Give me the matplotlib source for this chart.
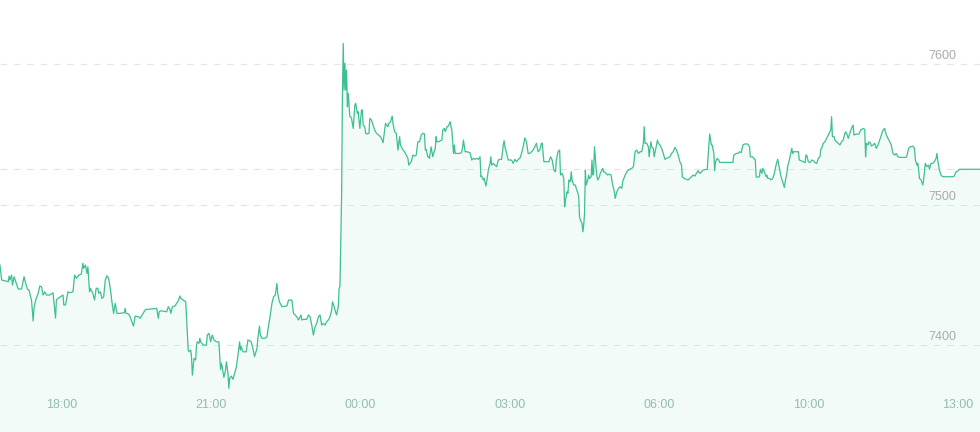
import matplotlib
matplotlib.use("Agg")
import matplotlib.pyplot as plt
import matplotlib.transforms as mtransforms

# minutes since 16:45 and the traded price at each point
minutes = [
    0, 2, 10, 11, 12, 14, 15, 17, 19, 22, 26, 29, 31, 33, 35, 38, 40, 41, 43, 46,
    48, 50, 52, 54, 56, 60, 64, 65, 67, 68, 70, 73, 76, 77, 79, 82, 84, 88, 90, 92,
    95, 98, 100, 101, 103, 105, 106, 108, 109, 112, 114, 116, 118, 119, 121, 123, 125, 127, 129, 131,
    133, 135, 137, 139, 141, 145, 150, 151, 152, 155, 157, 159, 161, 163, 167,
    169, 175, 177, 181, 189, 191, 192, 194, 201, 203, 205, 206, 208, 211, 213, 215, 217, 218, 220, 224,
    227, 228, 230, 231, 232, 233, 234, 236, 237, 238, 240, 241, 242, 245, 249, 250, 252, 253, 254, 256,
    258, 261, 264, 265, 266, 267, 268, 270, 272, 273, 275, 276, 277, 279, 281, 283, 285, 287, 289, 290,
    291, 293, 297, 299, 303, 305, 307, 310, 311, 313, 314, 316, 320, 322, 324, 326, 328, 330, 332, 334,
    335, 337,
    338, 340, 346, 348, 352, 354, 358, 360, 362, 363, 364, 366, 370, 372, 374, 376, 378, 380, 382, 384,
    386, 388, 390, 392, 394, 396, 398, 400, 401, 403, 404, 406, 408, 409, 410, 412, 413, 414, 415, 416,
    417, 418, 419, 420, 422, 423, 424, 426, 428, 429, 431, 432, 434, 436, 437, 438, 440, 441, 443, 445,
    446, 448, 450, 452, 454, 458, 460, 462, 464, 465, 468, 469, 471, 473, 474, 476, 478, 480, 482, 483,
    486, 488, 490, 492, 493, 496, 498, 500, 502, 504, 506,
    508, 510, 512, 513, 514, 516, 517, 518, 520, 522, 523, 525, 526, 527, 529, 531, 533, 534, 536, 537,
    539, 540, 542, 543, 544, 545, 547, 548, 549, 551, 555, 557, 558, 559, 561, 563, 567, 569, 571, 573,
    575, 577, 579, 580, 581, 583, 584, 586, 587, 589, 591, 592, 593, 595, 597, 599, 601, 603, 605, 607,
    608, 609, 611, 613, 617, 619, 621, 623, 625, 627, 629, 631, 633, 635, 637, 639, 641, 643, 645, 647,
    649, 651, 653, 654, 656, 662, 664, 666, 668, 670, 671, 673, 675,
    676, 678, 680, 681, 682, 684, 685, 686, 688, 689, 690, 692, 694, 695, 697, 698, 699, 700, 702, 703,
    704, 705, 706, 707, 709, 710, 711, 713, 714, 715, 716, 717, 719, 720, 721, 723, 724, 727, 728, 729,
    731, 733, 735, 737, 739, 741, 742, 744, 746, 748, 750, 751, 752, 754, 756, 758, 762, 764, 766, 768,
    770, 772, 774, 776, 777, 778, 780, 782, 783, 785, 786, 788, 789, 791, 793, 794, 796, 798, 800, 802,
    804, 808, 810, 812, 814, 816, 818, 820, 822, 823, 825, 828, 830, 832, 834, 836, 838, 840, 842, 844,
    846, 848, 853, 854, 855, 856, 858, 859, 861, 862, 863, 865, 867, 868, 872, 880, 884, 885, 888, 890,
    892, 894, 896, 898, 902, 904, 905, 908, 909, 911, 912, 913, 916, 917, 919, 920, 922, 924, 925, 926,
    928, 930, 932, 934, 936, 938, 940, 942, 944, 946, 947, 949, 950, 952, 955, 956, 957, 961, 963, 964,
    966, 969, 971, 972, 973, 975, 977, 979, 981, 983, 985, 987, 989, 990, 991, 993, 995, 997, 999, 1000,
    1002, 1003, 1004, 1006, 1007, 1009, 1011, 1013,
    1015, 1017, 1019, 1020, 1022, 1023, 1025, 1027, 1029, 1030, 1033, 1036, 1038, 1041, 1043, 1044, 1045, 1047, 1048, 1050,
    1051, 1053, 1055, 1057, 1059, 1061, 1063, 1065, 1067, 1069, 1071, 1073, 1075, 1077, 1079, 1081, 1083, 1085, 1093, 1094,
    1095, 1096, 1098, 1101, 1103, 1104, 1106, 1107, 1108, 1109, 1111, 1113, 1114, 1115, 1116, 1118, 1120, 1121, 1123, 1125,
    1127, 1129, 1130, 1131, 1132, 1133, 1135, 1137, 1145, 1149, 1151, 1153, 1155, 1157, 1182,
]

prices = [
    7456.9, 7446.3, 7445.1, 7449.1, 7446.3, 7449.8, 7442.7, 7448.6, 7445.1, 7439.9, 7439.9, 7448.6, 7443.9, 7439.9, 7439.1, 7432.0, 7417.1, 7426.1, 7432.0, 7436.8,
    7442.0, 7441.5, 7435.6, 7437.9, 7435.6, 7435.6, 7437.2, 7430.8, 7419.2, 7432.0, 7433.2, 7434.4, 7435.6, 7428.5, 7428.5, 7437.9, 7437.2, 7437.9, 7449.8, 7447.5,
    7449.8, 7450.5, 7458.2, 7454.6, 7456.9, 7451.0, 7455.7, 7437.9, 7440.4, 7436.8, 7432.0, 7440.4, 7440.4, 7436.8, 7437.9, 7433.2, 7434.4, 7446.3, 7449.3, 7447.5,
    7440.4, 7430.8, 7422.6, 7429.7, 7422.6, 7422.6, 7423.0, 7426.1, 7422.6, 7422.1, 7420.1, 7416.6, 7413.5, 7420.6, 7420.1,
    7419.0, 7424.9, 7425.4, 7425.6, 7426.1, 7419.0, 7423.7, 7424.4, 7423.7, 7427.3, 7425.4, 7422.6, 7427.3, 7427.8, 7429.7, 7431.5, 7434.9, 7433.2, 7432.5, 7430.8,
    7396.4, 7395.2, 7396.4, 7391.7, 7378.6, 7384.6, 7390.5, 7389.3, 7400.0, 7402.3, 7401.2, 7404.8, 7402.3, 7400.0, 7400.0, 7407.1, 7408.3, 7405.9, 7402.3, 7407.1,
    7403.6, 7402.3, 7402.3, 7392.9, 7382.7, 7387.0, 7384.6, 7377.0, 7382.2, 7388.1, 7379.9, 7369.2, 7376.3, 7377.9, 7375.6, 7379.9, 7384.1, 7392.9, 7402.3, 7396.4,
    7398.8, 7395.2, 7395.2, 7403.6, 7402.3, 7397.7, 7391.7, 7397.7, 7404.8, 7413.5, 7407.1, 7404.8, 7404.8, 7405.9, 7414.2, 7421.4, 7429.7, 7434.4, 7435.6, 7443.9,
    7436.8, 7430.8,
    7429.7, 7427.3, 7427.8, 7432.0, 7432.0, 7422.6, 7420.1, 7417.8, 7420.1, 7421.4, 7417.8, 7418.3, 7418.3, 7421.4, 7420.1, 7414.2, 7407.1, 7413.0, 7415.4, 7420.1,
    7421.4, 7414.2, 7415.4, 7414.2, 7416.6, 7417.8, 7420.1, 7424.9, 7430.8, 7427.3, 7424.9, 7421.4, 7427.3, 7440.4, 7441.5, 7505.6, 7576.7, 7614.7, 7581.5, 7600.5,
    7581.5, 7595.7, 7569.6, 7579.1, 7562.5, 7562.5, 7561.3, 7554.2, 7570.8, 7572.0, 7564.9, 7566.0, 7554.2, 7567.3, 7567.3, 7556.6, 7555.4, 7550.7, 7550.2, 7550.7,
    7561.3, 7560.1, 7556.6, 7553.0, 7550.7, 7548.8, 7547.1, 7544.0, 7553.0, 7557.8, 7555.4, 7557.8, 7558.9, 7563.0, 7557.8, 7551.8, 7550.7, 7538.8, 7548.3, 7542.4,
    7538.8, 7537.6, 7535.2, 7532.9, 7528.1, 7530.5, 7535.2, 7534.5, 7535.2, 7544.7, 7544.7,
    7549.5, 7550.7, 7550.2, 7538.8, 7539.3, 7534.0, 7534.0, 7532.9, 7541.1, 7534.0, 7536.4, 7540.0, 7548.3, 7544.7, 7544.7, 7545.4, 7545.9, 7553.0, 7554.2, 7551.8,
    7555.4, 7555.4, 7557.3, 7558.9, 7555.4, 7553.0, 7536.4, 7542.4, 7536.4, 7536.4, 7536.4, 7537.6, 7541.1, 7545.9, 7537.6, 7537.6, 7536.9, 7531.7, 7532.9, 7532.2,
    7532.9, 7532.2, 7534.0, 7519.8, 7520.3, 7517.4, 7518.6, 7513.2, 7516.2, 7524.6, 7529.3, 7534.0, 7528.1, 7529.3, 7528.1, 7526.9, 7531.7, 7532.2, 7532.2, 7542.4,
    7545.4, 7541.1, 7536.4, 7531.7, 7531.7, 7529.3, 7532.2, 7530.5, 7532.2, 7532.9, 7536.4, 7541.1, 7547.5, 7544.7, 7536.4, 7536.4, 7537.6, 7538.8, 7541.1, 7543.6,
    7537.6, 7538.8, 7543.6, 7543.6, 7530.5, 7530.5, 7534.0, 7531.7, 7524.6, 7523.3, 7531.7, 7537.6, 7538.8,
    7521.0, 7522.2, 7518.6, 7498.4, 7503.2, 7509.1, 7508.0, 7517.5, 7516.2, 7523.3, 7517.5, 7513.9, 7513.9, 7511.5, 7508.0, 7505.6, 7491.3, 7489.0, 7486.6, 7480.6,
    7485.4, 7493.7, 7524.6, 7513.9, 7517.5, 7521.0, 7518.6, 7519.8, 7531.7, 7521.0, 7522.2, 7541.1, 7525.8, 7519.8, 7517.5, 7519.8, 7522.2, 7525.8, 7523.3, 7523.3,
    7522.2, 7521.0, 7521.7, 7521.0, 7513.9, 7509.1, 7504.4, 7509.1, 7511.5, 7512.7, 7511.5, 7516.2, 7517.9, 7521.0, 7523.3, 7524.6, 7525.8, 7526.9, 7537.6, 7538.8,
    7536.4, 7537.6, 7537.6, 7543.6, 7555.4, 7543.6, 7543.6, 7541.1, 7534.0, 7544.7, 7541.1, 7540.0, 7534.0, 7540.0, 7545.9, 7543.6, 7542.4, 7540.0, 7536.4, 7532.2,
    7532.9, 7534.0, 7536.4, 7537.6, 7540.7, 7538.8, 7535.2, 7530.5, 7528.1, 7519.8, 7518.6, 7517.9, 7517.5, 7518.6, 7519.8, 7521.0, 7520.3, 7522.2, 7524.1, 7522.2,
    7523.3, 7524.6, 7525.1, 7534.0, 7542.4, 7550.2, 7542.4, 7542.4, 7536.4, 7524.1, 7530.5, 7532.9, 7531.7, 7530.0, 7530.0, 7530.0, 7530.0, 7535.2, 7536.4, 7536.4,
    7537.6, 7536.9, 7542.4, 7543.1, 7543.1, 7541.1, 7534.0, 7534.0, 7532.9, 7531.7, 7519.8, 7519.4, 7519.8, 7525.1, 7522.2, 7525.8, 7523.3, 7519.8, 7521.0, 7518.6,
    7518.6, 7517.5, 7518.6, 7522.2, 7528.1, 7532.2, 7525.8, 7519.8, 7516.2, 7512.2, 7516.2, 7522.2, 7526.9, 7531.7, 7540.0, 7536.4, 7537.6, 7537.6, 7537.6, 7531.7,
    7531.2, 7530.5, 7529.8, 7535.2, 7535.2, 7530.5, 7529.8, 7531.7, 7531.2, 7529.8, 7529.3, 7532.9, 7534.0, 7539.3, 7540.0, 7543.6, 7544.7, 7547.1, 7549.5, 7550.7,
    7553.0, 7562.5, 7548.3, 7548.3, 7545.9, 7544.7, 7543.6, 7542.4,
    7544.7, 7545.9, 7550.7, 7551.8, 7549.5, 7547.1, 7550.7, 7554.2, 7556.6, 7549.5, 7550.2, 7550.2, 7553.0, 7554.2, 7553.5, 7534.0, 7543.6, 7542.4, 7544.7, 7543.6,
    7541.6, 7542.4, 7543.6, 7540.0, 7542.4, 7545.9, 7549.5, 7553.0, 7554.2, 7549.5, 7547.1, 7544.7, 7542.4, 7536.4, 7535.2, 7536.4, 7534.0, 7533.6, 7533.6, 7535.2,
    7537.6, 7540.0, 7541.1, 7541.6, 7540.0, 7531.7, 7528.1, 7529.3, 7524.6, 7518.6, 7517.5, 7513.9, 7517.5, 7523.3, 7529.3, 7526.9, 7528.1, 7525.1, 7529.3, 7529.3,
    7530.5, 7532.9, 7536.4, 7531.7, 7528.1, 7524.6, 7521.0, 7519.8, 7519.8, 7519.8, 7520.3, 7523.3, 7523.8, 7525.1, 7525.1,
]

tick_minutes = [75, 255, 435, 615, 795, 975, 1155]
tick_labels = ["18:00", "21:00", "00:00", "03:00", "06:00", "10:00", "13:00"]
price_levels = [7400, 7500, 7600]

assert len(minutes) == len(prices)

plt.rcParams['font.family'] = ['Liberation Sans', 'DejaVu Sans']

fig = plt.figure(figsize=(9.8, 4.32), dpi=100)
ax = fig.add_axes([0, 0, 1, 1])
ax.set_xlim(0, 1182)
ax.set_ylim(7338.1, 7645.6)
ax.axis('off')

# light area under the price line
ax.fill_between(minutes, prices, 7300, color='#f3fbf8', lw=0, zorder=1)
ax.plot(minutes, prices, color='#3dbf92', lw=0.9, zorder=3)

# dashed grid lines and the last price line
for level in price_levels:
    col = '#e6e6e6' if level == 7600 else '#cdeee4'
    ax.axhline(level, color=col, lw=0.8, ls=(0, (6, 6)), zorder=2)
ax.axhline(prices[-1], color='#d4ebe3', lw=0.8, ls=(0, (6, 6)), zorder=2)

# price labels on the right, sitting just above their lines
ytrans = mtransforms.blended_transform_factory(ax.transAxes, ax.transData)
ytrans = mtransforms.offset_copy(ytrans, fig=fig, y=2, units='dots')
for level in price_levels:
    ax.text(0.9755, level, str(level), transform=ytrans, ha='right', va='bottom',
            fontsize=9, color='#aaaaaa')

# time labels along the bottom
xtrans = mtransforms.blended_transform_factory(ax.transData, ax.transAxes)
for m, lab in zip(tick_minutes, tick_labels):
    ax.text(m, 0.0625, lab, transform=xtrans, ha='center', va='center',
            fontsize=9, color='#94bdae')

fig.savefig('out.png', dpi=100)
